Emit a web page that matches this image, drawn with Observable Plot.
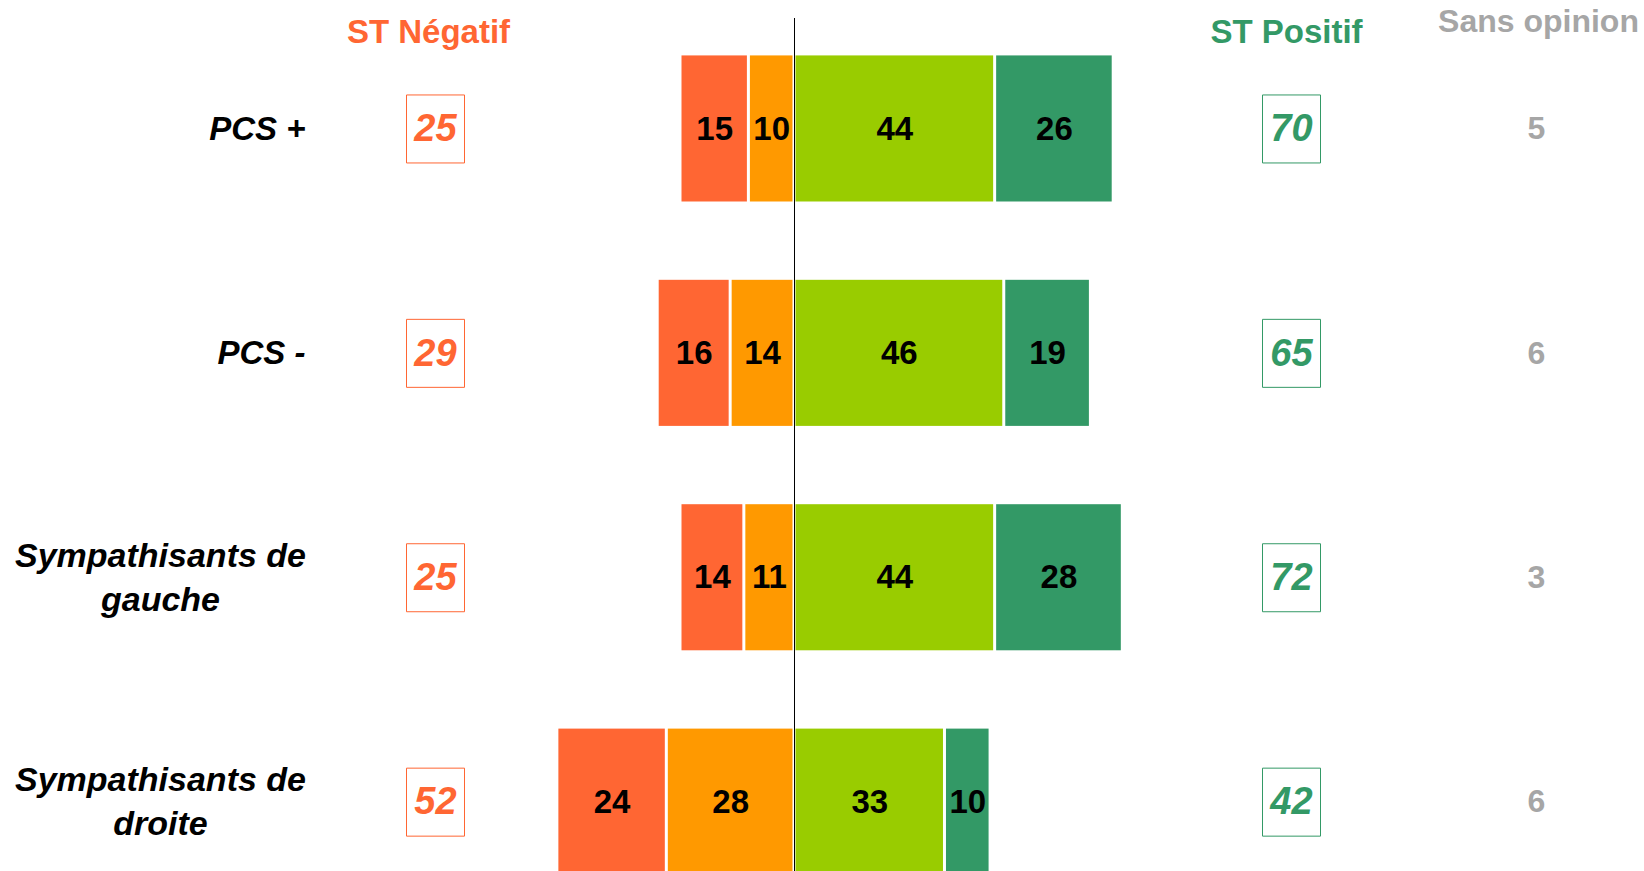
<!DOCTYPE html>
<html>
<head>
<meta charset="utf-8">
<script src="https://cdn.jsdelivr.net/npm/d3@7"></script>
<script src="https://cdn.jsdelivr.net/npm/@observablehq/plot@0.6"></script>
<style>
  html, body { margin: 0; padding: 0; background: #fff; overflow: hidden; }
</style>
</head>
<body>
<div id="chart"></div>
<script>
// ---- Data ----
const categories = ["PCS +", "PCS -", "Sympathisants de\ngauche", "Sympathisants de\ndroite"];
const seriesNames = ["Plutôt négatif", "Très négatif", "Plutôt positif", "Très positif"];
const tresNegatif = [15, 16, 14, 24];
const plutotNegatif = [10, 14, 11, 28];
const plutotPositif = [44, 46, 44, 33];
const tresPositif = [26, 19, 28, 10];
const stNegatif = [25, 29, 25, 52];
const stPositif = [70, 65, 72, 42];
const sansOpinion = [5, 6, 3, 6];
const headerNeg = "ST Négatif";
const headerPos = "ST Positif";
const headerSans = "Sans opinion";

// ---- Styles / layout ----
const W = 1644, H = 871;
const K = 4.56;          // pixels per percentage point
const X0 = 794;          // pixel position of zero
const px = p => (p - X0) / K;   // pixel -> data units
const colors = {"Très négatif": "#FF6633", "Plutôt négatif": "#FF9900", "Plutôt positif": "#99CC00", "Très positif": "#339966"};
const NEG = "#FF6633", POS = "#339966", GREY = "#A6A6A6";
const FONT = "'Liberation Sans', Arial, Helvetica, sans-serif";
const FS = 33;

// ---- Tables built from the arrays ----
const valuesBySeries = {
  "Plutôt négatif": plutotNegatif.map(v => -v),
  "Très négatif": tresNegatif.map(v => -v),
  "Plutôt positif": plutotPositif,
  "Très positif": tresPositif
};
const rows = [];
seriesNames.forEach(s => categories.forEach((c, i) => {
  const v = valuesBySeries[s][i];
  rows.push({cat: c, series: s, value: v, label: Math.abs(v)});
}));
const totals = categories.map((c, i) => ({cat: c, neg: stNegatif[i], pos: stPositif[i], so: sansOpinion[i]}));

const boxSymbol = {draw(ctx) { ctx.rect(-29, -34, 58, 68); }};

const plot = Plot.plot({
  width: W,
  height: H,
  marginLeft: 0, marginRight: 0, marginTop: 18, marginBottom: 0,
  style: {fontFamily: FONT, background: "#fff"},
  x: {domain: [px(0), px(W)], range: [0, W], axis: null},
  y: {type: "band", domain: categories, range: [-22.9, 953], padding: 0.349, round: false, axis: null},
  color: {domain: Object.keys(colors), range: Object.values(colors)},
  marks: [
    Plot.barX(rows, Plot.stackX({y: "cat", x: "value", z: "series", fill: "series", insetLeft: 1.5, insetRight: 1.5})),
    Plot.text(rows, Plot.stackX({y: "cat", x: "value", z: "series", text: "label", fill: "#000", fontSize: FS, fontWeight: "bold"})),
    Plot.ruleX([0], {stroke: "#000", strokeWidth: 1}),
    // row labels
    Plot.text(totals.filter(d => !d.cat.includes("\n")), {x: () => px(305), y: "cat", text: "cat", textAnchor: "end", fontSize: FS, fontWeight: "bold", fontStyle: "italic", fill: "#000"}),
    Plot.text(totals.filter(d => d.cat.includes("\n")), {x: () => px(160), y: "cat", dy: -3, text: "cat", textAnchor: "middle", lineHeight: 1.3, fontSize: 34, fontWeight: "bold", fontStyle: "italic", fill: "#000"}),
    // ST Négatif boxes
    Plot.dot(totals, {x: () => px(435), y: "cat", symbol: boxSymbol, r: 10, fill: "#fff", stroke: NEG, strokeWidth: 1}),
    Plot.text(totals, {x: () => px(435), y: "cat", text: "neg", fill: NEG, fontSize: 38, fontWeight: "bold", fontStyle: "italic"}),
    // ST Positif boxes
    Plot.dot(totals, {x: () => px(1291), y: "cat", symbol: boxSymbol, r: 10, fill: "#fff", stroke: POS, strokeWidth: 1}),
    Plot.text(totals, {x: () => px(1291), y: "cat", text: "pos", fill: POS, fontSize: 38, fontWeight: "bold", fontStyle: "italic"}),
    // Sans opinion
    Plot.text(totals, {x: () => px(1536), y: "cat", text: "so", fill: GREY, fontSize: FS - 1, fontWeight: "bold"}),
    // headers
    Plot.text([headerNeg], {x: () => px(428), frameAnchor: "top", dy: 1, text: d => d, fill: NEG, fontSize: FS, fontWeight: "bold"}),
    Plot.text([headerPos], {x: () => px(1286), frameAnchor: "top", dy: 1, text: d => d, fill: POS, fontSize: FS, fontWeight: "bold"}),
    Plot.text([headerSans], {x: () => px(1538), frameAnchor: "top", dy: -9, text: d => d, fill: GREY, fontSize: FS - 1, fontWeight: "bold"})
  ]
});
document.getElementById("chart").appendChild(plot);
</script>
</body>
</html>
